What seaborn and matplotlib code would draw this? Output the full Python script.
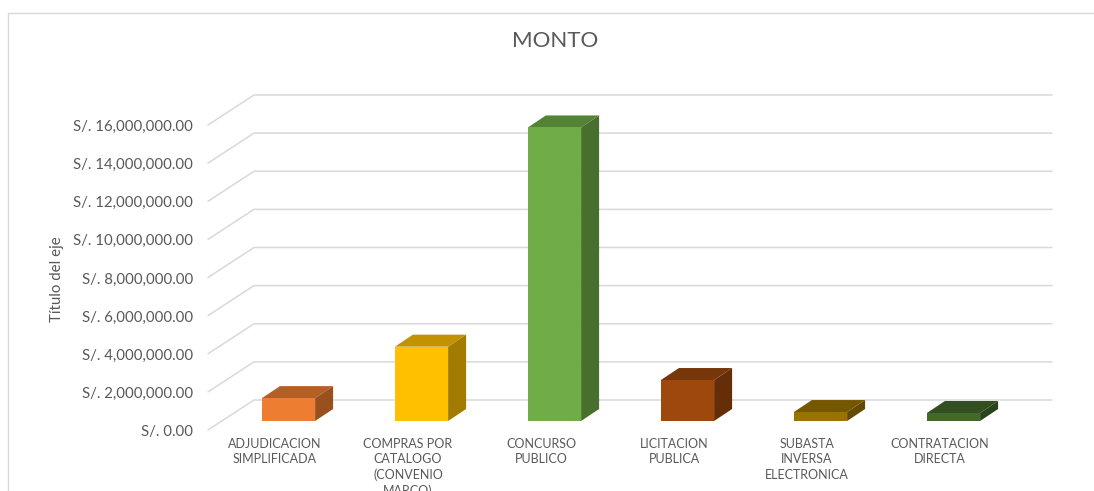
import numpy as np
import pandas as pd
import matplotlib
matplotlib.use("Agg")
import matplotlib.pyplot as plt
import seaborn as sns
from matplotlib.lines import Line2D
from matplotlib.patches import Polygon
from matplotlib.transforms import IdentityTransform, ScaledTranslation

categories = ["ADJUDICACION\nSIMPLIFICADA", "COMPRAS POR\nCATALOGO\n(CONVENIO\nMARCO)",
              "CONCURSO\nPUBLICO", "LICITACION\nPUBLICA",
              "SUBASTA\nINVERSA\nELECTRONICA", "CONTRATACION\nDIRECTA"]
montos = [1200000, 3900000, 15400000, 2150000, 470000, 420000]
y_ticks = [0, 2000000, 4000000, 6000000, 8000000, 10000000, 12000000, 14000000, 16000000]
colors = ["#ED7D31", "#FFC000", "#70AD47", "#9E480E", "#997300", "#43682B"]

W, H, DPI = 1094, 491, 100
GREY = "#595959"
GRID = "#D9D9D9"

sns.set_style("white")
plt.rcParams["font.family"] = ["Lato", "DejaVu Sans"]

fig = plt.figure(figsize=(W / DPI, H / DPI), dpi=DPI, facecolor="white")
ax = fig.add_axes([222 / W, (H - 421) / H, 798 / W, 305 / H])
ax.patch.set_alpha(0)

df = pd.DataFrame({"tipo": categories, "monto": montos})
sns.barplot(data=df, x="tipo", y="monto", hue="tipo", palette=colors, width=0.4,
            saturation=1, legend=False, linewidth=0, zorder=5, ax=ax)

ax.set_xlim(-0.5, 5.5)
ax.set_ylim(0, 16000000)
sns.despine(ax=ax, left=True, bottom=True)
ax.set_yticks(y_ticks)
ax.set_yticklabels([f"S/. {v:,.2f}" for v in y_ticks])
ax.set_xlabel("")
ax.set_ylabel("")
ax.tick_params(axis="y", length=0, pad=29 * 72 / DPI, labelsize=10.8, labelcolor=GREY)
ax.tick_params(axis="x", length=0, pad=17 * 72 / DPI, labelsize=9, labelcolor=GREY)

# labels sit on the front edge of the floor, not on the bars plane
for lab in ax.get_yticklabels():
    lab.set_transform(lab.get_transform() + ScaledTranslation(0, -9.5 / DPI, fig.dpi_scale_trans))
for lab in ax.get_xticklabels():
    lab.set_linespacing(1.33)
    lab.set_transform(lab.get_transform() + ScaledTranslation(-13.5 / DPI, 0, fig.dpi_scale_trans))

px = IdentityTransform()

# back wall gridlines and the diagonals on the side wall
for v in y_ticks:
    (x0, y0), (x1, y1) = ax.transData.transform([(-0.5, v), (5.5, v)])
    ax.add_line(Line2D([x0 - 14, x0 + 32, x1 + 32], [y0 - 9, y0 + 21, y1 + 21], transform=px,
                       color=GRID, lw=1.1, clip_on=False, zorder=1))

# depth faces for each bar
dx, dy = 18, 12
for bar, c in zip(ax.patches, colors):
    base = np.array(matplotlib.colors.to_rgb(c))
    (xa, ya), (xb, yb) = ax.transData.transform([(bar.get_x(), 0),
                                                 (bar.get_x() + bar.get_width(), bar.get_height())])
    top = [(xa, yb), (xb, yb), (xb + dx, yb + dy), (xa + dx, yb + dy)]
    side = [(xb, ya), (xb + dx, ya + dy), (xb + dx, yb + dy), (xb, yb)]
    ax.add_patch(Polygon(top, closed=True, transform=px, facecolor=base * 0.76, lw=0, clip_on=False, zorder=4))
    ax.add_patch(Polygon(side, closed=True, transform=px, facecolor=base * 0.64, lw=0, clip_on=False, zorder=4))

fig.text(555 / W, 1 - 41 / H, "MONTO", ha="center", va="center", fontsize=16, color=GREY)
fig.text(57 / W, 1 - 279 / H, "Título del eje", ha="center", va="center", rotation=90,
         fontsize=10.8, color=GREY)

# chart frame, cut off by the screenshot on the right and at the bottom
fig.add_artist(Line2D([7.5 / W, 7.5 / W, 1], [0, 1 - 12.5 / H, 1 - 12.5 / H], color=GRID, lw=1))

fig.savefig("out.png", dpi=DPI)
